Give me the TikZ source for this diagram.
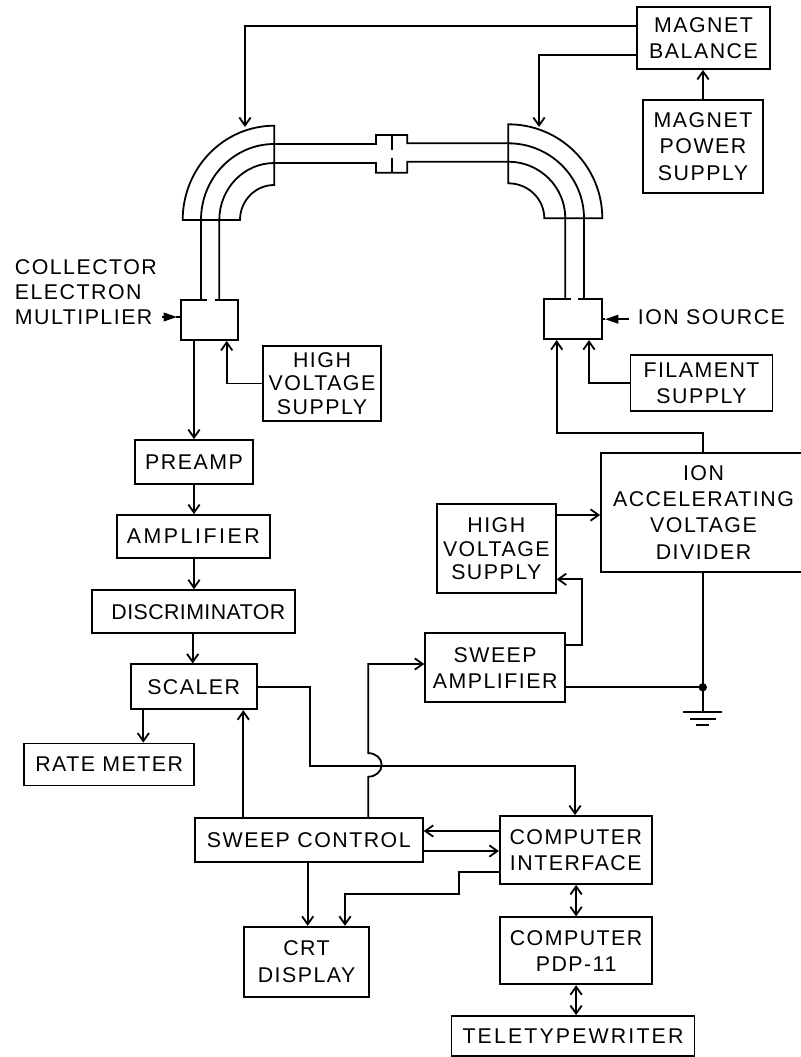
\documentclass[tikz,border=0pt]{standalone}
\usepackage{fontspec}
\setmainfont[LetterSpace=7]{Liberation Sans}
\usetikzlibrary{arrows.meta}
\begin{document}
\begin{tikzpicture}[x=.75pt, y=-.75pt, line width=1.35pt, >={Straight Barb[length=6pt,width=8.5pt,line width=1.35pt]},
	box/.style 2 args={draw, align=center, inner sep=0pt, minimum width=#1*.75pt, minimum height=#2*.75pt, font=\fontsize{16}{19.7}\selectfont},
	tight/.style={font=\fontsize{16}{17.8}\selectfont},
	tag/.style={align=left, inner sep=0pt, font=\fontsize{16}{18.7}\selectfont},
	solid tip/.style={-{Triangle[length=10pt,width=6.5pt]}}]
	\useasboundingbox (0,0) rectangle (800,1057);
	% blocks
	\node[box={133}{62}] (mbal) at (703.5,38) {MAGNET\\BALANCE};
	\node[box={120}{93}] (mpow) at (703,146.5) {MAGNET\\POWER\\SUPPLY};
	\node[box={57}{40}] (coll) at (209.5,320) {};
	\node[box={58}{40}] (src) at (573.2,319.2) {};
	\node[box={118}{75}, tight] (hvone) at (322,383.5) {HIGH\\VOLTAGE\\SUPPLY};
	\node[box={118}{44}] (preamp) at (194,462) {PREAMP};
	\node[box={153}{43}] (amp) at (193.3,536.5) {\addfontfeature{LetterSpace=12}AMPLIFIER};
	\node[box={203}{43}] (disc) at (193.7,611.7) {\hspace*{7pt}\addfontfeature{LetterSpace=2}DISCRIMINATOR};
	\node[box={126}{45}] (scaler) at (193.7,686.8) {SCALER};
	\node[box={170}{42}] (rate) at (109.2,764.5) {RATE METER};
	\node[box={228}{44}] (sweepc) at (308.8,839.7) {SWEEP CONTROL};
	\node[box={140}{69}] (sweepa) at (495.2,667.7) {SWEEP\\AMPLIFIER};
	\node[box={152}{68}] (compi) at (575.8,850) {COMPUTER\\INTERFACE};
	\node[box={125}{70}] (crt) at (306.5,961.7) {CRT\\DISPLAY};
	\node[box={152}{67}] (comp) at (576.1,950.8) {COMPUTER\\PDP-11};
	\node[box={243}{40}] (tele) at (573,1036) {\addfontfeature{LetterSpace=10}TELETYPEWRITER};
	\node[box={205}{119}] (ion) at (703.5,512.2) {ION\\ACCELERATING\\VOLTAGE\\DIVIDER};
	\node[box={142}{56}] (fil) at (701.5,382.9) {FILAMENT\\SUPPLY};
	\node[box={119}{89}, tight] (hvtwo) at (496.3,548.7) {HIGH\\VOLTAGE\\SUPPLY};
	\node[tag, anchor=west] (colltag) at (14,292) {COLLECTOR\\ELECTRON\\MULTIPLIER};
	\node[tag, anchor=west] (srctag) at (637,317.5) {ION SOURCE};
	% magnets
	\draw (274.3,125.7) arc[start angle=270, end angle=180, x radius=91.6, y radius=94.3] -- (240,220) arc[start angle=180, end angle=270, x radius=34.3, y radius=35] -- cycle;
	\draw (508.3,124.3) arc[start angle=270, end angle=360, x radius=94, y radius=94] -- (544.3,218.3) arc[start angle=360, end angle=270, x radius=36, y radius=35] -- cycle;
	% tube
	\draw (201,300) -- (201,220) arc[start angle=180, end angle=270, x radius=73.3, y radius=76] -- (376,144) -- (376,135) -- (407.3,135) -- (407.3,143.3) -- (508.3,143.3) arc[start angle=270, end angle=360, x radius=75.7, y radius=75] -- (584,299);
	\draw (219.3,300) -- (219.3,220) arc[start angle=180, end angle=270, x radius=55, y radius=57] -- (376,163) -- (376,172.7) -- (407.3,172.7) -- (407.3,161.7) -- (508.3,161.7) arc[start angle=270, end angle=360, x radius=57, y radius=56.6] -- (565.3,299);
	\draw (391.7,135) -- (391.7,150); \draw (391.7,158) -- (391.7,172.7);
	\draw[white, line width=2pt] (207,300) -- (215,300); \draw[white, line width=2pt] (570.5,299.2) -- (578,299.2);
	% connectors
	\draw[->] (637,26 -| mbal.west) -| (245,127);
	\draw[->] (637,55 -| mbal.west) -| (539,127);
	\draw[->] (mpow.north) -- (mbal.south -| mpow.north);
	\draw[solid tip] (srctag.west) ++(-8,1.7) -- (605,319.2); \draw (605,319.2) -- (src.east);
	\draw[solid tip] (colltag.east) ++(4,25) -- (177,317); \draw (176,317) -- (coll.west |- 0,317);
	\draw[->] (hvone.west) -| (226.7,0 |- coll.south);
	\draw[->] (coll.south -| preamp.north) -- (preamp.north);
	\draw[->] (preamp.south) -- (amp.north -| preamp.south);
	\draw[->] (amp.south -| preamp.south) -- (disc.north -| preamp.south);
	\draw[->] (192.7,0 |- disc.south) -- (192.7,0 |- scaler.north);
	\draw[->] (143.3,0 |- scaler.south) -- (143.3,0 |- rate.north);
	\draw[->] (243.3,0 |- sweepc.north) -- (243.3,0 |- scaler.south);
	\draw[->] (scaler.east) -| (310,766) -- (575,766) -- (575,0 |- compi.north);
	\draw[->] (368.3,0 |- sweepc.north) -- (368.3,776.7) arc[start angle=90, end angle=-90, x radius=13.4, y radius=11.8] -- (368.3,664) -- (sweepa.west |- 0,664);
	\draw[->] (compi.west |- 0,831) -- (sweepc.east |- 0,831);
	\draw[->] (sweepc.east |- 0,851) -- (compi.west |- 0,851);
	\draw[->] (compi.west |- 0,872.3) -- (459,872.3) -- (459,894) -- (345,894) -- (345,0 |- crt.north);
	\draw[->] (307.7,0 |- sweepc.south) -- (307.7,0 |- crt.north);
	\draw[<->] (compi.south -| comp.north) -- (comp.north);
	\draw[<->] (comp.south) -- (tele.north -| comp.south);
	\draw[->] (703.3,0 |- ion.north) |- (556.7,433.3) -- (556.7,0 |- src.south);
	\draw[->] (fil.west) -| (589,0 |- src.south);
	\draw[->] (hvtwo.east |- 0,515) -- (ion.west |- 0,515);
	\draw[->] (sweepa.east |- 0,645) -| (581.7,579.3) -- (hvtwo.east |- 0,579.3);
	\draw (sweepa.east |- 0,687.3) -- (702.8,687.3);
	\fill (702.8,687.3) circle (4.2);
	% ground
	\draw (702.8,0 |- ion.south) -- (702.8,712.3);
	\draw (683.3,712.3) -- (721.7,712.3); \draw (690,718.7) -- (716,718.7); \draw (695.7,725) -- (709.3,725);
\end{tikzpicture}
\end{document}
